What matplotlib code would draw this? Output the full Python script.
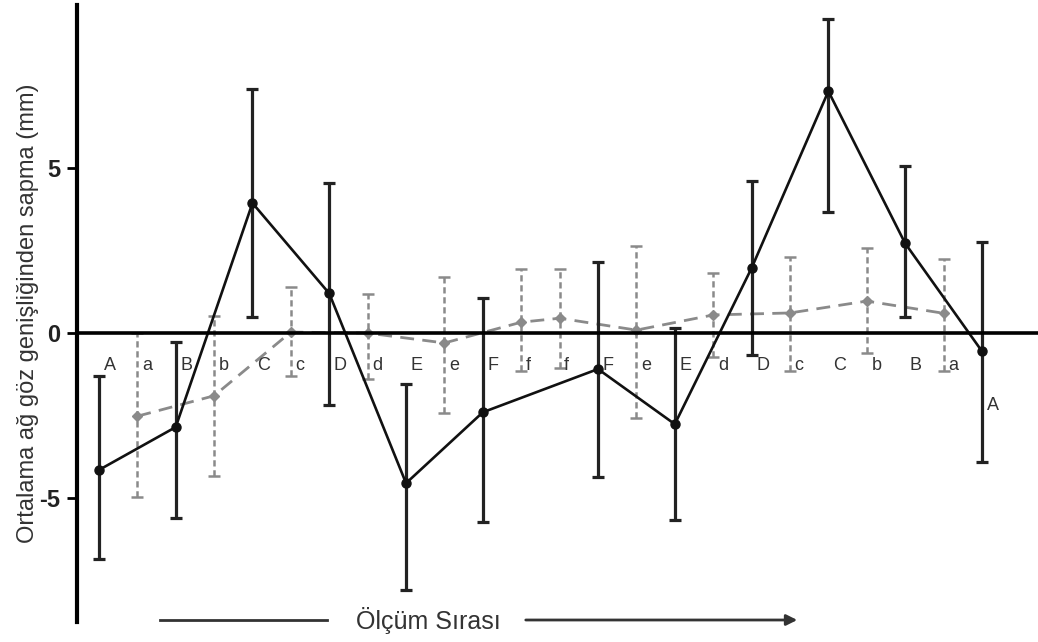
import matplotlib
matplotlib.use("Agg")
import matplotlib.pyplot as plt
from matplotlib.lines import Line2D

plt.rcParams["font.family"] = ["Liberation Sans", "DejaVu Sans"]

# === Data (measurement order positions) ===
black_x = [0, 2, 4, 6, 8, 10, 13, 15, 17, 19, 21, 23]
black_labels = ["A", "B", "C", "D", "E", "F", "F", "E", "D", "C", "B", "A"]
black_mean = [-4.15, -2.85, 3.94, 1.2, -4.55, -2.4, -1.09, -2.76, 1.97, 7.33, 2.72, -0.55]
black_lo = [2.7, 2.76, 3.45, 3.39, 3.24, 3.33, 3.27, 2.9, 2.64, 3.67, 2.24, 3.36]
black_hi = [2.85, 2.58, 3.45, 3.36, 3.0, 3.45, 3.24, 2.9, 2.64, 2.18, 2.33, 3.3]
black_label_y = [-0.97] * 11 + [-2.2]

gray_x = [1, 3, 5, 7, 9, 11, 12, 14, 16, 18, 20, 22]
gray_labels = ["a", "b", "c", "d", "e", "f", "f", "e", "d", "c", "b", "a"]
gray_mean = [-2.52, -1.9, 0.03, 0.0, -0.3, 0.33, 0.45, 0.09, 0.55, 0.61, 0.97, 0.6]
gray_lo = [2.45, 2.42, 1.33, 1.39, 2.12, 1.48, 1.51, 2.67, 1.28, 1.76, 1.57, 1.75]
gray_hi = [2.52, 2.42, 1.36, 1.18, 2.0, 1.61, 1.49, 2.55, 1.27, 1.69, 1.61, 1.64]
gray_label_y = [-0.97] * 12

fig = plt.figure(figsize=(10.38, 6.42), dpi=100)
ax = fig.add_axes([0.0742, 0.031, 0.9258, 0.961])

# gray series (dashed)
eb = ax.errorbar(gray_x, gray_mean, yerr=[gray_lo, gray_hi], color="#8a8a8a",
                 ecolor="#8a8a8a", linestyle=(0, (5, 3)), linewidth=2, marker="D",
                 markersize=5, elinewidth=1.8, capsize=4, capthick=1.8, zorder=2)
eb[2][0].set_linestyle((0, (2.5, 1.5)))

# black series (solid)
ax.errorbar(black_x, black_mean, yerr=[black_lo, black_hi], color="#111111",
            ecolor="#222222", linewidth=1.9, marker="o", markersize=6.5,
            elinewidth=2.3, capsize=4.5, capthick=2.3, zorder=3)

for x, lab, y in zip(black_x, black_labels, black_label_y):
    ax.text(x + 0.12, y, lab, ha="left", va="center", fontsize=13, color="#333333")
for x, lab, y in zip(gray_x, gray_labels, gray_label_y):
    ax.text(x + 0.12, y, lab, ha="left", va="center", fontsize=13, color="#333333")

ax.axhline(0, color="black", linewidth=2.6, zorder=4)

ax.set_xlim(-0.57, 24.46)
ax.set_ylim(-8.76, 9.94)
ax.set_yticks([-5, 0, 5])
ax.set_yticklabels(["-5", "0", "5"], fontsize=17, fontweight="bold", color="#222222")
ax.tick_params(axis="y", length=7, width=2, pad=5)
ax.set_xticks([])
for s in ["top", "right", "bottom"]:
    ax.spines[s].set_visible(False)
ax.spines["left"].set_linewidth(3)
ax.set_ylabel("Ortalama ağ göz genişliğinden sapma (mm)", fontsize=17, color="#333333",
              labelpad=0)

# bottom "measurement order" arrow
W, H = 1038.0, 642.0
fig.add_artist(Line2D([160 / W, 327 / W], [1 - 620 / H, 1 - 620 / H], color="#333333",
                      linewidth=2))
fig.text(428 / W, 1 - 621 / H, "Ölçüm Sırası", ha="center", va="center", fontsize=18,
         color="#333333")
ax.annotate("", xy=(800 / W, 1 - 620 / H), xytext=(523 / W, 1 - 620 / H),
            xycoords="figure fraction", textcoords="figure fraction",
            arrowprops=dict(arrowstyle="-|>", color="#333333", lw=2, mutation_scale=16))

fig.savefig("out.png", dpi=100)
